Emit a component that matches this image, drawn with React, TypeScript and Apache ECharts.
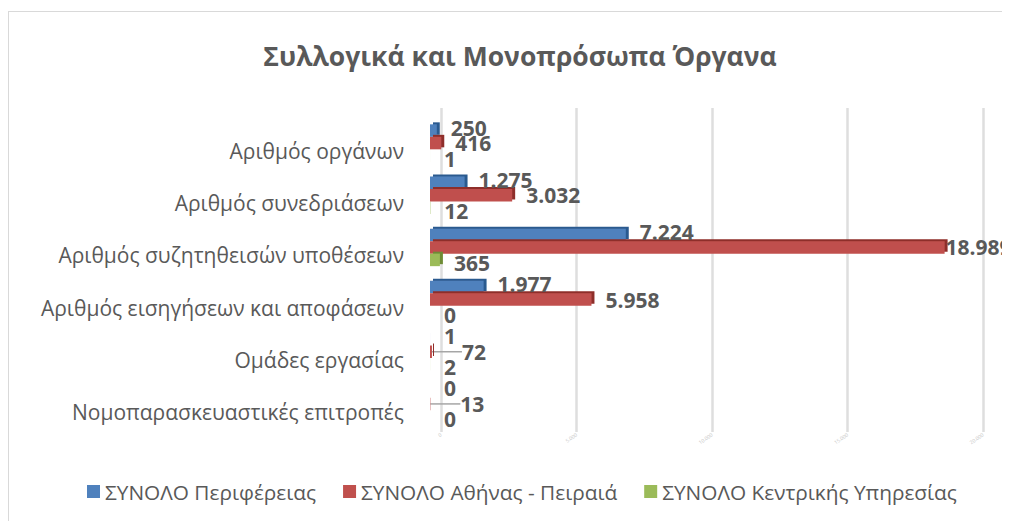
import React, { useEffect, useRef } from "react";
import * as echarts from "echarts";

const categories = [
  "Αριθμός οργάνων",
  "Αριθμός συνεδριάσεων",
  "Αριθμός συζητηθεισών υποθέσεων",
  "Αριθμός εισηγήσεων και αποφάσεων",
  "Ομάδες εργασίας",
  "Νομοπαρασκευαστικές επιτροπές",
];
const seriesNames = [
  "ΣΥΝΟΛΟ Περιφέρειας",
  "ΣΥΝΟΛΟ Αθήνας - Πειραιά",
  "ΣΥΝΟΛΟ Κεντρικής Υπηρεσίας",
];
const periferia = [250, 1275, 7224, 1977, 1, 0];
const athina = [416, 3032, 18989, 5958, 72, 13];
const kentriki = [1, 12, 365, 0, 2, 0];
const axisMax = 20000;
const axisStep = 5000;

const colors = ["#4F81BD", "#C0504D", "#9BBB59"];
const sideColors = ["#2C5A8F", "#8E2F2C", "#6E8C36"];

const fmt = (v: number) => String(v).replace(/\B(?=(\d{3})+(?!\d))/g, ".");
const FONT = "'Open Sans', 'Noto Sans', sans-serif";
const TXT = "#595959";

export default function App() {
  const ref = useRef<HTMLDivElement>(null);
  useEffect(() => {
    if (!ref.current) return;
    const chart = echarts.init(ref.current, undefined, { renderer: "svg" });
    const values = [periferia, athina, kentriki];
    const labelOffsets: [number, number][] = [
      [0, -3],
      [0, 2],
      [0, 3],
    ];
    const series: any[] = values.map((vals, i) => ({
      type: "bar",
      name: seriesNames[i],
      xAxisIndex: 1,
      yAxisIndex: 1,
      data:
        i === 1
          ? vals.map((v, j) =>
              j >= 4 ? { value: v, labelLine: { show: true } } : { value: v }
            )
          : vals,
      barWidth: 12.5,
      barGap: "0%",
      itemStyle: {
        color: colors[i],
        shadowColor: sideColors[i],
        shadowOffsetX: 3,
        shadowOffsetY: -2,
        shadowBlur: 0,
      },
      label: {
        show: true,
        position: "right",
        distance: 14,
        offset: labelOffsets[i],
        fontFamily: FONT,
        fontWeight: "bold",
        fontSize: 21,
        color: TXT,
        formatter: (p: any) => fmt(p.value),
      },
      labelLine: { show: false, lineStyle: { color: "#a6a6a6", width: 1.5 } },
      ...(i === 1
        ? {
            labelLayout: (p: any) =>
              p.dataIndex >= 4 ? { dx: 16 } : p.dataIndex === 2 ? { dx: -13 } : {},
          }
        : {}),
    }));

    chart.setOption({
      animation: false,
      textStyle: { fontFamily: FONT },
      title: {
        text: "Συλλογικά και Μονοπρόσωπα Όργανα",
        left: 506,
        textAlign: "center",
        top: 25,
        textStyle: { fontFamily: FONT, fontWeight: "bold", fontSize: 26.5, color: TXT },
      },
      legend: {
        data: seriesNames,
        left: 73,
        top: 464,
        itemWidth: 13,
        itemHeight: 13,
        itemGap: 27,
        icon: "rect",
        textStyle: { fontFamily: FONT, fontSize: 20.8, color: TXT },
      },
      grid: [
        { left: 432, top: 96, width: 542, height: 324 },
        { left: 421, top: 105, width: 542, height: 313 },
      ],
      xAxis: [
        {
          type: "value",
          gridIndex: 0,
          min: 0,
          max: axisMax,
          interval: axisStep,
          axisLine: { show: false },
          axisTick: { show: false },
          splitLine: { show: true, lineStyle: { color: "#dedede", width: 2.5 } },
          axisLabel: {
            show: true,
            fontSize: 5,
            color: "#c8c8c8",
            rotate: 35,
            margin: 2,
            formatter: (v: number) => fmt(v),
          },
        },
        {
          type: "value",
          gridIndex: 1,
          min: 0,
          max: axisMax,
          interval: axisStep,
          axisLine: { show: false },
          axisTick: { show: false },
          splitLine: { show: false },
          axisLabel: { show: false },
        },
      ],
      yAxis: [
        {
          type: "category",
          gridIndex: 0,
          data: categories,
          show: false,
        },
        {
          type: "category",
          gridIndex: 1,
          data: categories,
          inverse: true,
          axisLine: { show: false },
          axisTick: { show: false },
          axisLabel: {
            fontFamily: FONT,
            fontSize: 21,
            color: TXT,
            margin: 26,
            verticalAlign: "top",
            lineHeight: 16,
          },
        },
      ],
      series,
    });
    return () => chart.dispose();
  }, []);

  return (
    <div
      style={{
        marginTop: 3,
        width: 1002,
        height: 510,
        borderLeft: "1px solid #d9d9d9",
        borderTop: "1px solid #d9d9d9",
        boxSizing: "border-box",
      }}
    >
      <div ref={ref} style={{ width: 1001, height: 509 }} />
    </div>
  );
}
